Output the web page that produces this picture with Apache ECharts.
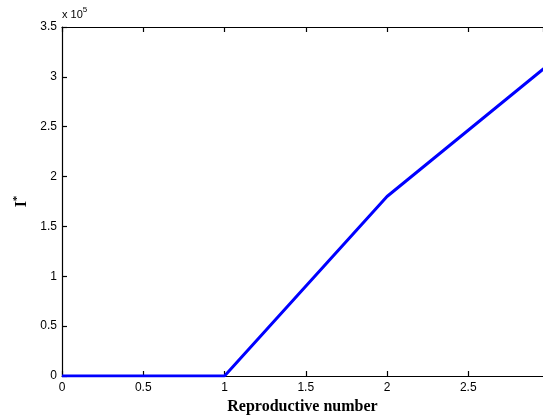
<!DOCTYPE html>
<html>
<head>
<meta charset="utf-8">
<script src="https://cdn.jsdelivr.net/npm/echarts@6/dist/echarts.min.js"></script>
<style>
  html, body { margin: 0; padding: 0; background: #fff; }
  #chart { width: 543px; height: 416px; }
</style>
</head>
<body>
<div id="chart"></div>
<script>
// Endemic equilibrium I* against the basic reproductive number
const reproNumber = [0, 1, 2, 3];
const infectedStar = [0, 0, 180000, 313000];
const xTicks = [0, 0.5, 1, 1.5, 2, 2.5];
const xMax = 2.96;
const yScale = 1e5;

const chart = echarts.init(document.getElementById('chart'));

const axisLineStyle = { color: '#000', width: 1.2 };
const tickFont = { fontFamily: 'Liberation Sans, Arial, sans-serif', fontSize: 12, color: '#000' };

chart.setOption({
  animation: false,
  backgroundColor: '#fff',
  grid: { left: 62, top: 27, right: 0, height: 349, containLabel: false, outerBoundsMode: 'none' },
  graphic: [{
    type: 'text',
    left: 62, top: 6,
    style: {
      text: '{a|x 10}{b|5}',
      rich: {
        a: { fontFamily: 'Liberation Sans, Arial, sans-serif', fontSize: 11, fill: '#000', verticalAlign: 'bottom' },
        b: { fontFamily: 'Liberation Sans, Arial, sans-serif', fontSize: 8, fill: '#000', verticalAlign: 'top', padding: [0, 0, 6, 0] }
      }
    }
  }],
  xAxis: [{
    type: 'value',
    min: 0, max: xMax, interval: 0.5,
    position: 'bottom',
    name: 'Reproductive number',
    nameLocation: 'middle',
    nameGap: 22,
    nameTextStyle: { fontFamily: 'Liberation Serif, Times New Roman, serif', fontWeight: 'bold', fontSize: 16, color: '#000' },
    axisLine: { show: true, onZero: false, lineStyle: axisLineStyle },
    axisTick: { inside: true, length: 5, lineStyle: axisLineStyle },
    axisLabel: { ...tickFont, margin: 6, showMaxLabel: false,
      formatter: v => (xTicks.includes(v) ? String(v) : '') },
    splitLine: { show: false }
  }, {
    type: 'value',
    min: 0, max: xMax, interval: 0.5,
    position: 'top',
    axisLine: { show: true, onZero: false, lineStyle: axisLineStyle },
    axisTick: { inside: true, length: 5, lineStyle: axisLineStyle },
    axisLabel: { show: false },
    splitLine: { show: false }
  }],
  yAxis: [{
    type: 'value',
    min: 0, max: 3.5 * yScale, interval: 0.5 * yScale,
    name: '{a|I}{b|*}',
    nameLocation: 'middle',
    nameRotate: 90,
    nameGap: 29,
    nameTextStyle: {
      rich: {
        a: { fontFamily: 'Liberation Serif, Times New Roman, serif', fontWeight: 'bold', fontSize: 16, color: '#000' },
        b: { fontFamily: 'Liberation Serif, Times New Roman, serif', fontWeight: 'bold', fontSize: 11, color: '#000', verticalAlign: 'top', padding: [0, 0, 8, 0] }
      }
    },
    axisLine: { show: true, onZero: false, lineStyle: axisLineStyle },
    axisTick: { inside: true, length: 5, lineStyle: axisLineStyle },
    axisLabel: { ...tickFont, margin: 5, formatter: v => String(+(v / yScale).toFixed(1)) },
    splitLine: { show: false }
  }],
  series: [{
    type: 'line',
    data: reproNumber.map((x, i) => [x, infectedStar[i]]),
    showSymbol: false,
    lineStyle: { color: '#0000ff', width: 3 },
    itemStyle: { color: '#0000ff' },
    clip: true
  }]
});
</script>
</body>
</html>
